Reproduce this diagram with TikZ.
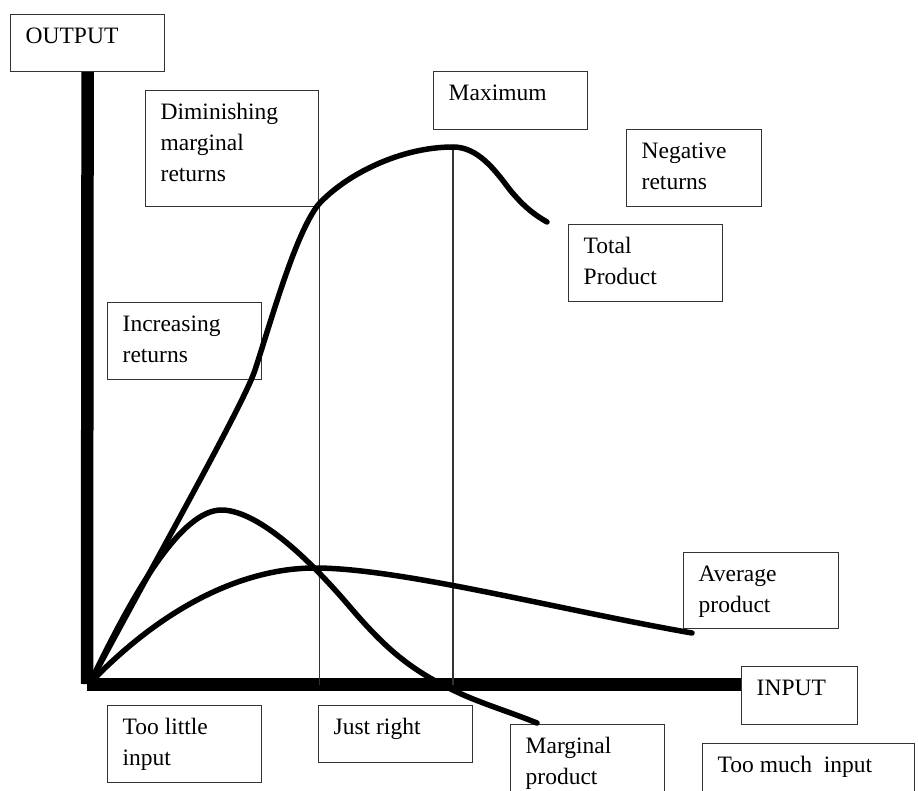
\documentclass[tikz,border=0pt]{standalone}
\usepackage{fontspec}
\setmainfont{Liberation Serif}
\begin{document}
\begin{tikzpicture}[x=1pt,y=-1pt,
  box/.style={draw=black!80, line width=1.2pt, anchor=north west, inner sep=0pt},
  boxtext/.style={anchor=base west, inner sep=0pt},
  axis/.style={line width=12.5pt},
  guide/.style={draw=black!80, line width=1.4pt},
  curve/.style={line width=5.5pt, line cap=round, line join=round}]
\newcommand\labelbox[6]{%
  \node[box, minimum width=#4pt, minimum height=#5pt] (#1) at (#2,#3) {};
  \node[boxtext] at ([xshift=15.5pt,yshift=-29.5pt]#1.north west)
    {\fontsize{23.5}{31}\selectfont\begin{tabular}[t]{@{}l@{}}#6\end{tabular}};}
\useasboundingbox (0,0) rectangle (918,791);
\clip (0,0) rectangle (918,791);
\fill[white] (0,0) rectangle (918,791);

% labelled boxes
\labelbox{output}{10}{14}{154}{57}{OUTPUT}
\labelbox{dimret}{145}{90}{173}{116}{Diminishing\\marginal\\returns}
\labelbox{maximum}{433}{71}{154}{58}{Maximum}
\labelbox{negret}{626}{129}{135}{77}{Negative\\returns}
\labelbox{totprod}{568}{224}{154}{77}{Total\\Product}
\labelbox{incret}{107}{302}{154}{77}{Increasing\\returns}
\labelbox{toolittle}{107}{705}{154}{77}{Too little\\input}
\labelbox{justright}{318}{705}{154}{57}{Just right}
\labelbox{input}{741}{666}{116}{58}{INPUT}
\labelbox{margprod}{510}{724}{154}{90}{Marginal\\product}
\labelbox{toomuch}{702}{743}{212}{70}{Too much\ \ input}
\labelbox{avgprod}{683}{552}{155}{76}{Average\\product}

% axes
\coordinate (origin) at (87,684.5);
\coordinate (peak) at (453,147);
\draw[axis] (output.south) -- (origin |- 0,684);
\draw[axis] (origin) -- (input.west |- origin);

% guide lines
\draw[guide] (dimret.south east) -- (dimret.south east |- origin);
\draw[guide] (peak) -- (peak |- origin);

% total product
\draw[curve] (90,683) .. controls (150,570) and (244,404) .. (255,370)
  .. controls (272,318) and (295,235) .. (318,205)
  .. controls (345,175) and (400,147) .. (peak)
  .. controls (478,147) and (495,170) .. (510,190)
  .. controls (525,208) and (535,215) .. (547,222);

% marginal product
\draw[curve] (90,683) .. controls (130,600) and (180,508) .. (223,510)
  .. controls (260,512) and (310,560) .. (350,607)
  .. controls (385,648) and (410,670) .. (457,692)
  .. controls (480,703) and (510,712) .. (537,723);

% average product
\draw[curve] (90,683) .. controls (170,600) and (250,568) .. (315,568)
  .. controls (400,568) and (560,610) .. (692,633);
\end{tikzpicture}
\end{document}
